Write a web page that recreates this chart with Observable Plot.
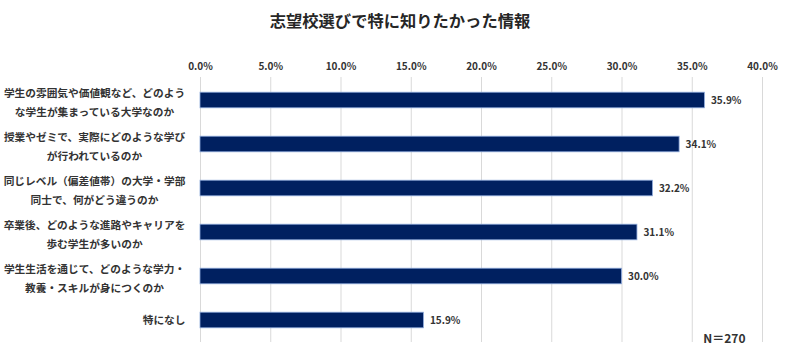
<!DOCTYPE html>
<html><head><meta charset="utf-8">
<script src="https://cdn.jsdelivr.net/npm/d3@7"></script>
<script src="https://cdn.jsdelivr.net/npm/@observablehq/plot@0.6"></script>
<style>
body{margin:0;background:#fff;font-family:"Noto Sans CJK JP",sans-serif;}
#title{height:40px;line-height:40px;text-align:center;font-size:16.3px;font-weight:bold;color:#262626;}
</style></head><body>
<div id="title">志望校選びで特に知りたかった情報</div>
<div id="chart"></div>
<script>
const categories = [
  "学生の雰囲気や価値観など、どのよう\nな学生が集まっている大学なのか",
  "授業やゼミで、実際にどのような学び\nが行われているのか",
  "同じレベル（偏差値帯）の大学・学部\n同士で、何がどう違うのか",
  "卒業後、どのような進路やキャリアを\n歩む学生が多いのか",
  "学生生活を通じて、どのような学力・\n教養・スキルが身につくのか",
  "特になし"
];
const values = [35.9, 34.1, 32.2, 31.1, 30.0, 15.9];
const xTicks = [0, 5, 10, 15, 20, 25, 30, 35, 40];
const note = "N＝270";

const data = categories.map((c, i) => ({cat: c, v: values[i]}));
const font = "Noto Sans CJK JP";
const chart = Plot.plot({
  width: 800, height: 314,
  marginTop: 37, marginBottom: 12, marginLeft: 200, marginRight: 38,
  style: {fontFamily: font, background: "#fff"},
  x: {domain: [0, 40], axis: null, label: null},
  y: {domain: categories, padding: 0, axis: null, label: null},
  marks: [
    Plot.gridX(xTicks, {stroke: "#d9d9d9", strokeOpacity: 1, strokeWidth: 1}),
    Plot.axisX(xTicks, {anchor: "top", label: null, tickSize: 0, tickPadding: 8, tickFormat: d => d.toFixed(1) + "%",
      fontSize: 10, fontWeight: "bold", fill: "#333", fontFamily: font}),
    Plot.barX(data, {x: "v", y: "cat", fill: "#002060", stroke: "#8eaadb", strokeWidth: 0.8, insetTop: 14.2, insetBottom: 14.2}),
    Plot.text(data, {x: "v", y: "cat", text: d => d.v.toFixed(1) + "%", dx: 6, textAnchor: "start",
      fontSize: 10, fontWeight: "bold", fill: "#333"}),
    Plot.text(data.filter(d => d.cat.includes("\n")), {y: "cat", text: "cat", frameAnchor: "left", dx: -106,
      textAnchor: "middle", lineHeight: 1.75, fontSize: 10.7, fontWeight: "bold", fill: "#333"}),
    Plot.text(data.filter(d => !d.cat.includes("\n")), {y: "cat", text: "cat", frameAnchor: "left", dx: -15,
      textAnchor: "end", fontSize: 10.7, fontWeight: "bold", fill: "#333"}),
    Plot.text([note], {text: d => d, frameAnchor: "bottom-right", dx: -17, dy: 0, lineAnchor: "bottom",
      fontSize: 12, fontWeight: "bold", fill: "#333"})
  ]
});
document.getElementById("chart").appendChild(chart);
</script>
</body></html>
